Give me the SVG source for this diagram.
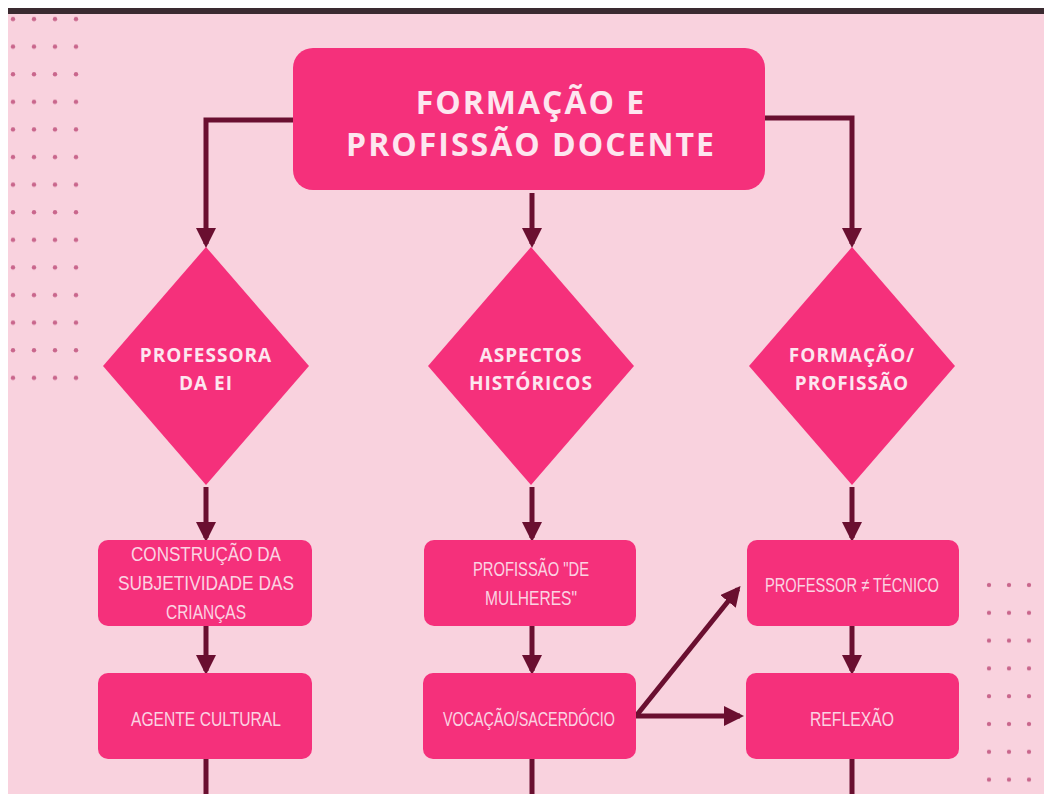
<svg xmlns="http://www.w3.org/2000/svg" width="1044" height="794" viewBox="0 0 1044 794">
<defs>
<style>
.box{fill:#f5307b;}
.con{stroke:#6a0f30;stroke-width:5;fill:none;}
.title{font-family:"Open Sans","Liberation Sans",sans-serif;font-weight:bold;fill:#fde6ef;font-size:32px;letter-spacing:2px;text-anchor:middle;}
.dl{font-family:"Open Sans","Liberation Sans",sans-serif;font-weight:bold;fill:#fde6ef;font-size:19px;letter-spacing:1px;text-anchor:middle;}
.bl{font-family:"Liberation Sans",sans-serif;fill:#fbd3e2;font-size:20px;text-anchor:middle;}
.dot{fill:#c9668c;}
</style>
<marker id="ah" viewBox="0 0 10 10" refX="8" refY="5" markerWidth="4" markerHeight="4" orient="auto" markerUnits="strokeWidth">
<path d="M0,0 L10,5 L0,10 Z" fill="#6a0f30"/>
</marker>
<pattern id="dl" x="3" y="5" width="21" height="27.6" patternUnits="userSpaceOnUse">
<circle cx="10" cy="14" r="2.2" class="dot"/>
</pattern>
<pattern id="dr" x="979" y="571" width="20" height="27.8" patternUnits="userSpaceOnUse">
<circle cx="10" cy="14" r="2.2" class="dot"/>
</pattern>
</defs>
<rect width="1044" height="794" fill="#f9d2de"/>
<rect x="0" y="0" width="1044" height="8" fill="#ffffff"/>
<rect x="0" y="0" width="8" height="794" fill="#ffffff"/>
<rect x="8" y="8" width="1036" height="6" fill="#3a2a30"/>
<rect x="3" y="5" width="84" height="386" fill="url(#dl)"/>
<rect x="979" y="571" width="60" height="222" fill="url(#dr)"/>

<g id="connectors">
<path class="con" d="M293,120 H206 V244" marker-end="url(#ah)"/>
<path class="con" d="M765,118 H852 V244" marker-end="url(#ah)"/>
<path class="con" d="M532,193 V244" marker-end="url(#ah)"/>
<path class="con" d="M206,487 V538" marker-end="url(#ah)"/>
<path class="con" d="M532,487 V538" marker-end="url(#ah)"/>
<path class="con" d="M852,487 V538" marker-end="url(#ah)"/>
<path class="con" d="M206,626 V671" marker-end="url(#ah)"/>
<path class="con" d="M532,626 V671" marker-end="url(#ah)"/>
<path class="con" d="M852,626 V671" marker-end="url(#ah)"/>
<path class="con" d="M636,716 L738,589" marker-end="url(#ah)"/>
<path class="con" d="M636,716 H740" marker-end="url(#ah)"/>
<path class="con" d="M206,759 V800"/>
<path class="con" d="M532,759 V800"/>
<path class="con" d="M852,759 V800"/>
</g>

<g id="title">
<rect class="box" x="293" y="48" width="472" height="142" rx="20"/>
<text class="title" x="531" y="114">FORMAÇÃO E</text>
<text class="title" x="531" y="156">PROFISSÃO DOCENTE</text>
</g>

<g id="d1">
<polygon class="box" points="206,247 309,366 206,485 103,366"/>
<text class="dl" x="206" y="362">PROFESSORA</text>
<text class="dl" x="206" y="390">DA EI</text>
</g>
<g id="d2">
<polygon class="box" points="531,247 634,366 531,485 428,366"/>
<text class="dl" x="531" y="362">ASPECTOS</text>
<text class="dl" x="531" y="390">HISTÓRICOS</text>
</g>
<g id="d3">
<polygon class="box" points="852,247 955,366 852,485 749,366"/>
<text class="dl" x="852" y="362">FORMAÇÃO/</text>
<text class="dl" x="852" y="390">PROFISSÃO</text>
</g>

<g id="b1">
<rect class="box" x="98" y="540" width="214" height="86" rx="10"/>
<text class="bl" x="206" y="561" textLength="150" lengthAdjust="spacingAndGlyphs">CONSTRUÇÃO DA</text>
<text class="bl" x="206" y="590" textLength="176" lengthAdjust="spacingAndGlyphs">SUBJETIVIDADE DAS</text>
<text class="bl" x="206" y="619" textLength="80" lengthAdjust="spacingAndGlyphs">CRIANÇAS</text>
</g>
<g id="b2">
<rect class="box" x="424" y="540" width="212" height="86" rx="10"/>
<text class="bl" x="531" y="576" textLength="116" lengthAdjust="spacingAndGlyphs">PROFISSÃO "DE</text>
<text class="bl" x="531" y="605" textLength="92" lengthAdjust="spacingAndGlyphs">MULHERES"</text>
</g>
<g id="b3">
<rect class="box" x="747" y="540" width="212" height="86" rx="10"/>
<text class="bl" x="852" y="592" textLength="174" lengthAdjust="spacingAndGlyphs">PROFESSOR ≠ TÉCNICO</text>
</g>
<g id="b4">
<rect class="box" x="98" y="673" width="214" height="86" rx="10"/>
<text class="bl" x="206" y="726" textLength="150" lengthAdjust="spacingAndGlyphs">AGENTE CULTURAL</text>
</g>
<g id="b5">
<rect class="box" x="423" y="673" width="213" height="86" rx="10"/>
<text class="bl" x="529" y="726" textLength="172" lengthAdjust="spacingAndGlyphs">VOCAÇÃO/SACERDÓCIO</text>
</g>
<g id="b6">
<rect class="box" x="746" y="673" width="213" height="86" rx="10"/>
<text class="bl" x="852" y="726" textLength="84" lengthAdjust="spacingAndGlyphs">REFLEXÃO</text>
</g>
</svg>
